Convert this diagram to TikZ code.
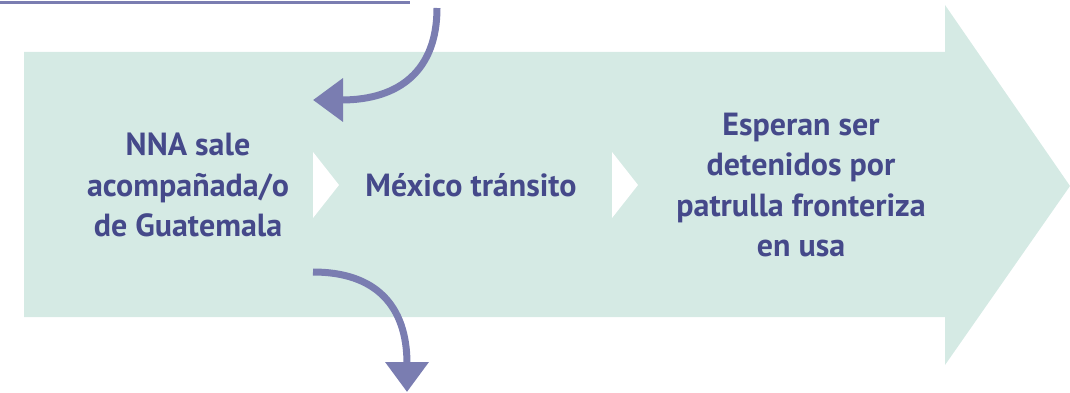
\documentclass[tikz,border=0pt]{standalone}
\usepackage{fontspec}
\setmainfont{PT Sans}
\usepackage{tikz}
\usetikzlibrary{arrows.meta,positioning}

\definecolor{mint}{HTML}{D5EAE4}
\definecolor{lila}{HTML}{7A7DB1}
\definecolor{tinta}{HTML}{45498A}

\begin{document}
\begin{tikzpicture}[x=1pt,y=-1pt,
                    flecha/.style={draw=lila,line width=7pt,-{Triangle[length=30pt,width=42pt]}},
                    paso/.style={text=tinta,font=\bfseries\fontsize{32}{40.5}\selectfont,align=center},
                    punta/.style={fill=white,draw=none}]
  \useasboundingbox (0,0) rectangle (1070,393);
%  fondo: flecha grande
  \fill[mint] (24,52) -- (945,52) -- (945,5) -- (1070,186) -- (945,365)
              -- (945,317) -- (24,317) -- cycle;
  \fill[punta] (313,152) -- (339,185) -- (313,218) -- cycle;
  \fill[punta] (612,152) -- (638,185) -- (612,218) -- cycle;

  \node[paso]         (M) at (471,185) {México tránsito};
  \node[paso]         (N) at (188,185) {NNA sale\\acompañada/o\\de Guatemala};
  \node[paso]         (E) at (801,185) {Esperan ser\\detenidos por\\patrulla fronteriza\\en usa};

  \coordinate (ini) at (437,8);
  \coordinate (ent) at (313,100);
  \coordinate (sal) at (313,272);
  \coordinate (fin) at (407,392);

  \draw[lila,line width=3pt] (0,2.5) -- (410,2.5);
  \draw[flecha] (ini) .. controls (437,70) and (400,100) .. (ent);
  \draw[flecha] (sal) .. controls (375,272) and (407,305) .. (fin);
\end{tikzpicture}
\end{document}
